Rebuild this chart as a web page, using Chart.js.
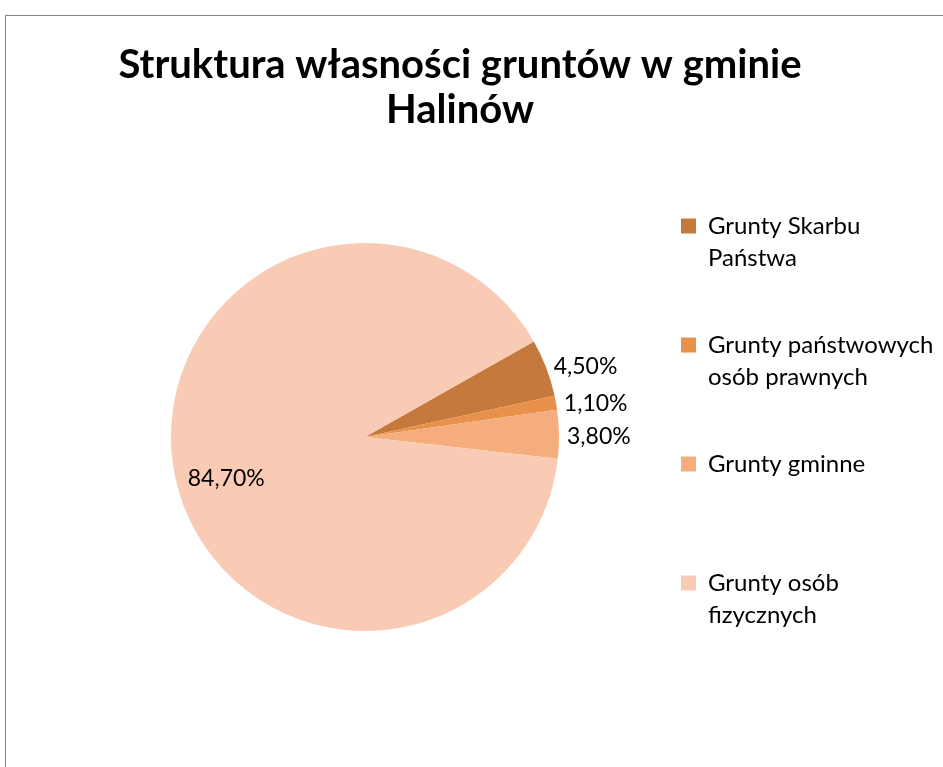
<!DOCTYPE html>
<html lang="pl">
<head>
<meta charset="utf-8">
<title>Struktura własności gruntów w gminie Halinów</title>
<script src="https://cdn.jsdelivr.net/npm/chart.js@4/dist/chart.umd.min.js"></script>
<style>
    html, body { margin: 0; padding: 0; background: #fff; overflow: hidden; }
    #wrap { position: relative; width: 943px; height: 767px; }
    #ramka { position: absolute; left: 5px; top: 15px; width: 2000px; height: 2000px; border: 1px solid #858585; box-sizing: border-box; }
    #wykres { position: absolute; left: 0; top: 0; }
</style>
</head>
<body>
<div id="wrap">
    <div id="ramka"></div>
    <canvas id="wykres" width="943" height="767"></canvas>
</div>
<script>
// Dane wykresu
const tytul = ['Struktura własności gruntów w gminie', 'Halinów'];
const kategorie = [
    ['Grunty Skarbu', 'Państwa'],
    ['Grunty państwowych', 'osób prawnych'],
    ['Grunty gminne'],
    ['Grunty osób', 'fizycznych']
];
const udzialy = [4.5, 1.1, 3.8, 84.7];
const kolory = ['#C5793C', '#E8914A', '#F6AD7D', '#F9CBB5'];

// Formatuje liczbę jako "4,50%"
function formatProc(v) {
    return v.toFixed(2).replace('.', ',') + '%';
}

const FONT = 'Lato, Calibri, "Open Sans", sans-serif';

// Etykiety danych: małe wycinki na zewnątrz, duży w środku
const etykiety = {
    id: 'etykiety',
    afterDatasetsDraw(chart) {
        const ctx = chart.ctx;
        const meta = chart.getDatasetMeta(0);
        const suma = udzialy.reduce((a, b) => a + b, 0);
        ctx.save();
        ctx.font = '23px ' + FONT;
        ctx.fillStyle = '#000';
        ctx.textBaseline = 'middle';
        meta.data.forEach((arc, i) => {
            const { x, y, startAngle, endAngle, outerRadius } = arc.getProps(['x', 'y', 'startAngle', 'endAngle', 'outerRadius'], true);
            const mid = (startAngle + endAngle) / 2;
            const txt = formatProc(udzialy[i]);
            if (udzialy[i] / suma < 0.2) {
                const r = outerRadius + 8;
                ctx.textAlign = 'left';
                ctx.fillText(txt, x + Math.cos(mid) * r, y + Math.sin(mid) * r + 2);
            } else {
                const r = outerRadius * 0.73;
                ctx.textAlign = 'center';
                ctx.fillText(txt, x + Math.cos(mid) * r, y + Math.sin(mid) * r + 13);
            }
        });
        ctx.restore();
    }
};

// Legenda jest węższa niż tekst (żeby tytuł był wyśrodkowany jak w oryginale),
// więc poszerzamy jej obszar przycinania po układzie
const legendaBezCiecia = {
    id: 'legendaBezCiecia',
    afterLayout(chart) {
        if (chart.legend) chart.legend.right = chart.width;
    }
};

new Chart(document.getElementById('wykres'), {
    type: 'pie',
    data: {
        labels: kategorie,
        datasets: [{
            data: udzialy,
            backgroundColor: kolory,
            borderWidth: 0
        }]
    },
    options: {
        responsive: false,
        animation: false,
        rotation: 60.5,
        radius: 194,
        layout: { padding: { left: 104, right: 127, top: 0, bottom: 52 } },
        plugins: {
            title: {
                display: true,
                text: tytul,
                color: '#000',
                font: { family: FONT, size: 40, weight: 'bold', lineHeight: 45 / 40 },
                padding: { top: 43, bottom: 26 }
            },
            legend: {
                position: 'right',
                align: 'start',
                fullSize: false,
                maxWidth: 190,
                labels: {
                    color: '#000',
                    font: { family: FONT, size: 24, lineHeight: 32 / 24 },
                    boxWidth: 15,
                    boxHeight: 15,
                    padding: 55,
                    // każda pozycja legendy zajmuje dwie linie, jak w oryginale
                    generateLabels(chart) {
                        const base = Chart.controllers.pie.overrides.plugins.legend.labels.generateLabels(chart);
                        return base.map(it => {
                            const t = Array.isArray(it.text) ? it.text.slice() : [it.text];
                            while (t.length < 2) t.push('');
                            it.text = t;
                            it.lineWidth = 0;
                            return it;
                        });
                    }
                }
            },
            tooltip: { enabled: false }
        }
    },
    plugins: [etykiety, legendaBezCiecia]
});
</script>
</body>
</html>
